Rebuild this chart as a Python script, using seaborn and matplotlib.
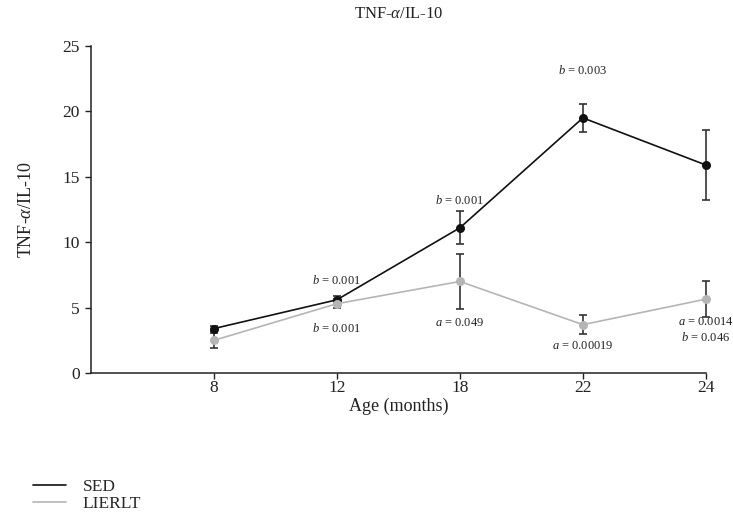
import matplotlib
matplotlib.use("Agg")
from matplotlib import pyplot as plt
import pandas as pd
import seaborn as sns

# Data
ages = ["8", "12", "18", "22", "24"]
sed_mean = [3.4, 5.6, 11.1, 19.5, 15.9]
sed_err = [0.2, 0.3, 1.25, 1.05, 2.7]
lierlt_mean = [2.5, 5.3, 7.0, 3.7, 5.65]
lierlt_err = [0.6, 0.35, 2.1, 0.75, 1.35]

# annotations: (age index, y position, letter, p value)
notes = [
    (1, 7.1, "b", "0.001"),
    (1, 3.4, "b", "0.001"),
    (2, 13.2, "b", "0.001"),
    (2, 3.8, "a", "0.049"),
    (3, 23.1, "b", "0.003"),
    (3, 2.1, "a", "0.00019"),
    (4, 3.9, "a", "0.0014"),
    (4, 2.75, "b", "0.046"),
]

sns.set_style("ticks")
plt.rcParams["font.family"] = ["Liberation Serif", "DejaVu Serif"]
plt.rcParams["mathtext.fontset"] = "custom"
plt.rcParams["mathtext.rm"] = "Liberation Serif"
plt.rcParams["mathtext.it"] = "Liberation Serif:italic"

pos = list(range(len(ages)))
df = pd.DataFrame({
    "pos": pos * 2,
    "value": sed_mean + lierlt_mean,
    "group": ["SED"] * 5 + ["LIERLT"] * 5,
})
colors = {"SED": "#111111", "LIERLT": "#b5b5b5"}

fig = plt.figure(figsize=(7.33, 5.16), dpi=100)
ax = fig.add_axes([0.124, 0.277, 0.839, 0.634])

# Error bars
for m, e in [(sed_mean, sed_err), (lierlt_mean, lierlt_err)]:
    eb = ax.errorbar(pos, m, yerr=e, fmt="none", ecolor="#333333",
                     elinewidth=1.2, capsize=3, capthick=1.2, zorder=2)
    for art in eb.lines[1] + eb.lines[2]:
        art.set_clip_on(False)

sns.lineplot(data=df, x="pos", y="value", hue="group", palette=colors,
             marker="o", markersize=6.5, markeredgewidth=0, linewidth=1.2,
             ax=ax, legend=False, zorder=3, clip_on=False)

for i, y, letter, p in notes:
    ax.text(i, y, "$" + letter + "$ = " + p, ha="center", va="center",
            fontsize=9, color="#222222")

ax.set_xlim(-1, 4)
ax.set_ylim(0, 25)
ax.set_xticks(pos)
ax.set_xticklabels(ages)
ax.set_yticks([0, 5, 10, 15, 20, 25])
ax.tick_params(labelsize=12.5, length=4, width=1, colors="#222222", pad=4)
ax.tick_params(axis="x", pad=1)
sns.despine(ax=ax)
for s in ["left", "bottom"]:
    ax.spines[s].set_linewidth(1.1)
    ax.spines[s].set_color("#222222")

ax.set_xlabel("Age (months)", fontsize=13, labelpad=1, color="#222222")
ax.set_ylabel(r"TNF-$\alpha$/IL-10", fontsize=13, labelpad=20, color="#222222")
ax.set_title(r"TNF-$\alpha$/IL-10", fontsize=12, pad=20, color="#222222")

# Legend below the plot
handles = [plt.Line2D([], [], color=colors["SED"], lw=1.2),
           plt.Line2D([], [], color=colors["LIERLT"], lw=1.2)]
fig.legend(handles, ["SED", "LIERLT"], loc="upper left",
           bbox_to_anchor=(0.035, 0.085), frameon=False, fontsize=12.5,
           handlelength=1.9, handletextpad=1.0, labelspacing=0.05,
           borderaxespad=0)

plt.savefig("out.png", dpi=100)
